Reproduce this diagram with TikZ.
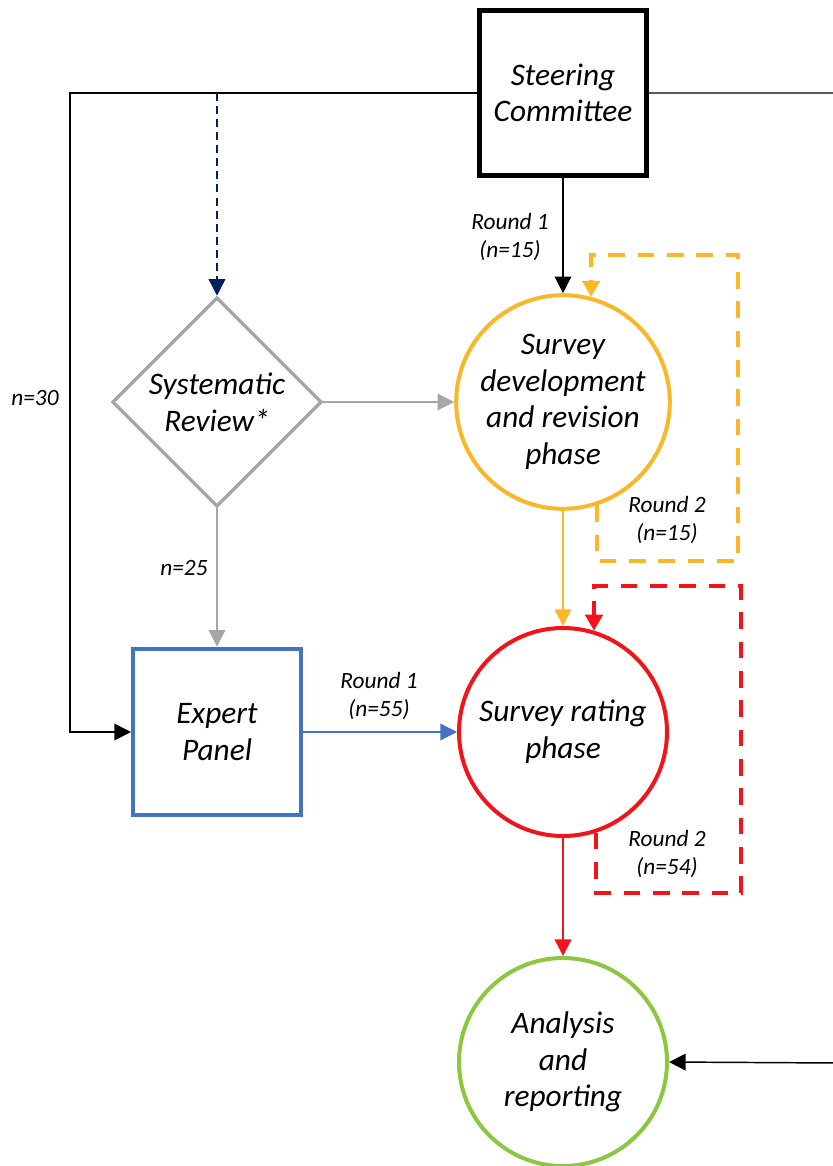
\documentclass[tikz,border=0pt]{standalone}
\usepackage{fontspec}
\setmainfont{Carlito}
\usetikzlibrary{shapes.geometric,arrows.meta}
\definecolor{devcolor}{RGB}{250,183,40}
\definecolor{ratecolor}{RGB}{242,20,24}
\definecolor{reportcolor}{RGB}{141,198,63}
\definecolor{panelcolor}{RGB}{68,114,196}
\definecolor{reviewcolor}{RGB}{166,166,166}
\definecolor{navycolor}{RGB}{0,32,96}
\tikzset{phase node/.style={circle, draw=#1, line width=3pt, minimum size=156pt,
    inner sep=0pt, align=center, font=\fontsize{23.5}{27.5}\selectfont\itshape}}
\tikzset{box node/.style={rectangle, draw=#1, minimum width=126pt, minimum height=125pt,
    inner sep=0pt, align=center, font=\fontsize{23.5}{27.5}\selectfont\itshape}}
\tikzset{review node/.style={diamond, aspect=1, draw=reviewcolor, line width=2.4pt,
    minimum width=157pt, minimum height=157pt, inner sep=0pt, align=center,
    font=\fontsize{23.5}{27.5}\selectfont\itshape}}
\tikzset{count label/.style={align=center, font=\fontsize{17.5}{21}\selectfont\itshape}}
\tikzset{regular edge/.style={draw=#1, line width=1.1pt, -{Triangle[length=12.5pt,width=12.5pt]}}}
\tikzset{loop edge/.style={draw=#1, line width=3pt, dash pattern=on 12.5pt off 9.5pt,
    -{Triangle[length=12pt,width=13pt]}}}

\begin{document}
\begin{tikzpicture}
          [x=0.75pt, y=-0.75pt]
          \useasboundingbox (0,0) rectangle (832,1166);
          \node [box node=black, line width=3.4pt, minimum width=125pt, minimum height=124pt]
                                        (steer)  at (563, 93)   {Steering\\Committee};
          \node [review node]           (review) at (217, 402)  {Systematic\\Review*};
          \node [box node=panelcolor, line width=3pt]
                                        (panel)  at (217, 732)  {Expert\\Panel};
          \node [phase node=devcolor]   (devel)  at (563, 402)  {Survey\\development\\and revision\\phase};
          \node [phase node=ratecolor]  (rating) at (563, 732)  {Survey rating\\phase};
          \node [phase node=reportcolor](report) at (563, 1062) {Analysis\\and\\reporting};

          \coordinate (leftbend)  at (70, 732);
          \coordinate (rightbend) at (838, 1063);
          \coordinate (revtap)    at (217, 93);
          \coordinate (devlow)    at (738, 561);
          \coordinate (devhigh)   at (738, 255);
          \coordinate (ratelow)   at (741, 893);
          \coordinate (ratehigh)  at (741, 586);

          \node [count label] (lblsteer)  at (510, 237) {Round 1\\(n=15)};
          \node [count label] (lblpanel)  at (379, 696) {Round 1\\(n=55)};
          \node [count label] (lblreview) at (184, 568) {n=25};
          \node [count label] (lblleft)   at (35, 398)  {n=30};
          \node [count label] (lbldevel)  at (667, 520) {Round 2\\(n=15)};
          \node [count label] (lblrating) at (667, 854) {Round 2\\(n=54)};

          \draw [regular edge=black]       (steer.west) -| (leftbend) -- (panel.west);
          \draw [regular edge=black]       (steer.east) -| (rightbend) -- (report.east);
          \draw [regular edge=black]       (steer.south) -- (devel.north);
          \draw [regular edge=navycolor, dash pattern=on 6pt off 3.8pt] (revtap) -- (review.north);
          \draw [regular edge=reviewcolor] (review.east) -- (devel.west);
          \draw [regular edge=reviewcolor] (review.south) -- (panel.north);
          \draw [regular edge=panelcolor]  (panel.east) -- (rating.west);
          \draw [regular edge=devcolor]    (devel.south) -- (rating.north);
          \draw [regular edge=ratecolor]   (rating.south) -- (report.north);
          \draw [loop edge=devcolor]       (devel.-72) |- (devlow) -- (devhigh) -| (devel.75);
          \draw [loop edge=ratecolor]      (rating.-72) |- (ratelow) -- (ratehigh) -| (rating.73);
        \end{tikzpicture}
\end{document}
